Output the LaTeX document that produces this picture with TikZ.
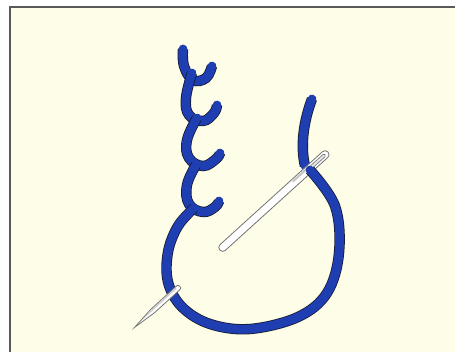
\documentclass[tikz,border=0pt]{standalone}
\definecolor{paper}{RGB}{254,253,232}
\definecolor{threadblue}{RGB}{30,62,178}
\definecolor{threadedge}{RGB}{22,26,52}
\definecolor{needleedge}{RGB}{115,115,115}

\begin{document}
\begin{tikzpicture}[x=1pt, y=-1pt,
  thread/.style={draw=threadblue, line width=8.8pt, line cap=round, line join=round,
                 preaction={draw=threadedge, line width=10.4pt}},
  needle/.style={fill=white, draw=needleedge, line width=0.8pt}
]
\useasboundingbox (0,0) rectangle (455,352);
\clip (0,0) rectangle (455,352);
\fill[white] (0,0) rectangle (455,352);
\fill[paper, draw=black!65, line width=1.6pt] (10,7) rectangle (470,370);

% finished chain, each link drawn over the one above
\draw[thread] plot[smooth, tension=0.7] coordinates {(183,49) (184,66) (193,80) (206,78) (212,66)};
\draw[thread] plot[smooth, tension=0.7] coordinates {(192,73) (186,98) (189,115) (203,121) (214,113) (217,105)};
\draw[thread] plot[smooth, tension=0.7] coordinates {(197,118) (187,140) (189,158) (203,166) (216,159) (220,153)};
\draw[thread] plot[smooth, tension=0.7] coordinates {(196,165) (187,185) (189,204) (203,212) (215,207) (219,201)};

% loose end of the thread, passing under the needle
\draw[thread] (312,99) .. controls (304,120) and (300,145) .. (305,166);

% needle shaft with its eye
\begin{scope}[shift={(328,152)}, rotate=222.2]
  \draw[needle, rounded corners=3.8pt] (0,-3.9) rectangle (146,3.9);
  \draw[needleedge, fill=gray!20, line width=0.6pt, rounded corners=1.3pt] (4,-1.5) rectangle (23,1.5);
  \fill[gray!45] (23,0.7) rectangle (46,2.8);
\end{scope}

% working loop, from the last link round to the eye
\draw[thread] plot[smooth, tension=0.6] coordinates {(194,208) (178,226) (168,252) (168,282)
  (182,307) (210,324) (250,329) (298,317) (327,293) (339,253) (335,206) (310,170)};

% point of the needle coming back up
\begin{scope}[shift={(328,152)}, rotate=222.2]
  \draw[needle] (202,-2.5) -- (237,-2.5) -- (261,0) -- (237,2.5) -- (202,2.5)
    .. controls (199.4,2.5) and (199.4,-2.5) .. (202,-2.5) -- cycle;
  \fill[gray!40] (204,0.4) -- (237,0.4) -- (257,0.2) -- (237,1.7) -- (204,1.7) -- cycle;
\end{scope}
\end{tikzpicture}
\end{document}
